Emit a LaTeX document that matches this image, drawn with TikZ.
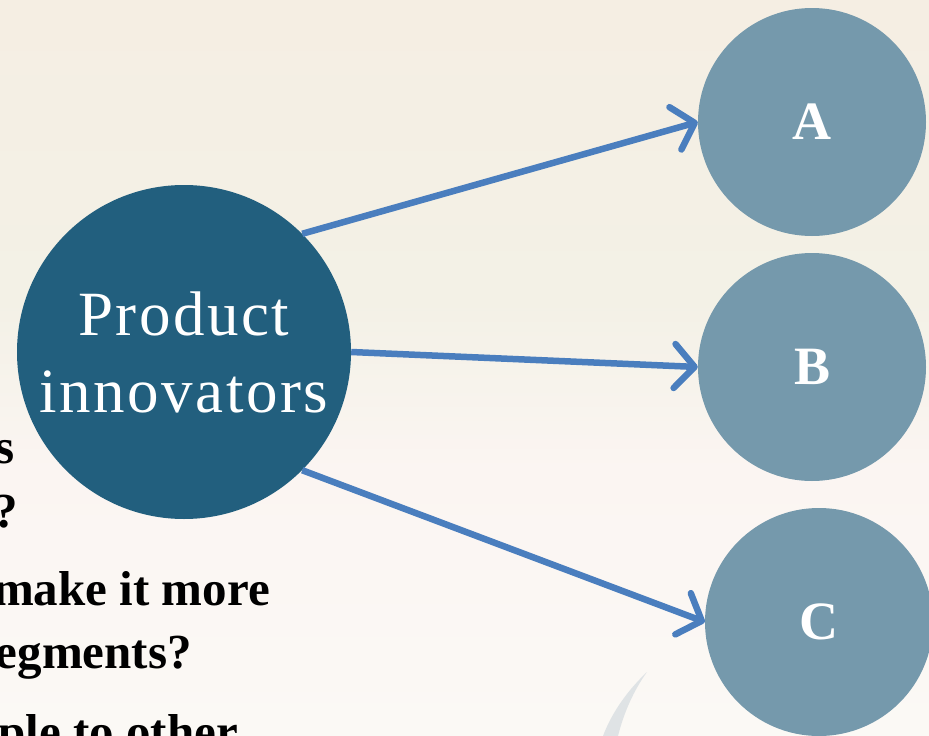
\documentclass[tikz,border=0pt]{standalone}
\usepackage{fontspec}
\setmainfont{Liberation Serif}
\newfontfamily\widefont[LetterSpace=4]{Liberation Serif}
\usetikzlibrary{arrows.meta}
\definecolor{bgA}{HTML}{F5EEE3}
\definecolor{bgB}{HTML}{F3F1E6}
\definecolor{bgC}{HTML}{FBF5F2}
\definecolor{bgD}{HTML}{FBF9F5}
\definecolor{maincol}{HTML}{225F7E}
\definecolor{smallcol}{HTML}{7599AC}
\definecolor{arrowcol}{HTML}{4A7EBE}
\definecolor{sailcol}{HTML}{DFE3E5}
\tikzset{
  bigcirc/.style={circle, fill=maincol, minimum size=334pt, inner sep=0pt, text=white, align=center,
    font=\widefont\fontsize{63}{77}\selectfont},
  smallcirc/.style={circle, fill=smallcol, minimum size=228pt, inner sep=0pt, text=white,
    font=\bfseries\fontsize{54}{60}\selectfont},
  conn/.style={draw=arrowcol, line width=6.5pt, -{Straight Barb[length=20pt,width=44pt,round]}},
  bodytext/.style={anchor=base east, inner sep=0pt, font=\bfseries\fontsize{49}{58}\selectfont, text=black}
}
\begin{document}
\begin{tikzpicture}[x=1pt,y=-1pt]
\useasboundingbox (0,0) rectangle (929,736);
\shade[top color=bgA, bottom color=bgB] (0,0) rectangle (929,300);
\shade[top color=bgB, bottom color=bgC] (0,300) rectangle (929,470);
\shade[top color=bgC, bottom color=bgD] (0,470) rectangle (929,736);
% faint background sail
\fill[sailcol] (647,672) .. controls (628,690) and (612,712) .. (603,736) -- (618,736) .. controls (624,712) and (634,690) .. (647,672) -- cycle;
% partial body text
\node[bodytext] (t1) at (15,463) {s};
\node[bodytext] (t2) at (18,527) {?};
\node[bodytext] (t3) at (270,605) {make it more};
\node[bodytext] (t4) at (192,668) {egments?};
\node[bodytext] (t5) at (238,748) {ple to other};
% circles
\node[bigcirc] (main) at (184,352) {Product\\innovators};
\node[smallcirc] (A) at (812,122) {A};
\node[smallcirc] (B) at (812,367) {B};
\node[smallcirc] (C) at (819,622) {C};
% connectors
\draw[conn] (main.45) -- (A.west);
\draw[conn] (main.east) -- (B.west);
\draw[conn] (main.-45) -- (C.west);
\end{tikzpicture}
\end{document}
